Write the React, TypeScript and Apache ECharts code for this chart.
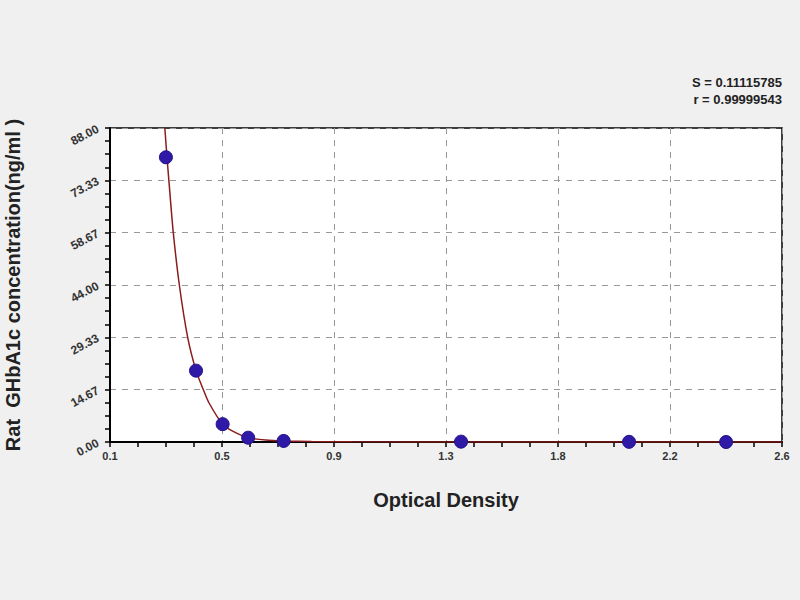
import { useEffect, useRef } from 'react';
import * as echarts from 'echarts';
import type { EChartsOption } from 'echarts';

// standards (optical density vs concentration)
const standardOd = [0.308, 0.42, 0.519, 0.614, 0.746, 1.406, 2.031, 2.392];
const standardConc = [79.8, 20.0, 5.0, 1.2, 0.3, 0.1, 0.05, 0.0];

// fitted curve
const curveOd = [0.304, 0.312, 0.32, 0.335, 0.358, 0.389, 0.42, 0.447, 0.468, 0.519, 0.56, 0.614, 0.68, 0.746, 0.85, 1.0, 1.4, 2.0, 2.6];
const curveConc = [88.0, 79.8, 72.4, 59.0, 44.0, 29.3, 20.0, 14.7, 11.0, 5.0, 2.9, 1.2, 0.55, 0.3, 0.12, 0.05, 0.01, 0, 0];

const xMajorTicks = [0.1, 0.5167, 0.9333, 1.35, 1.7667, 2.1833, 2.6];
const xTickLabels = ['0.1', '0.5', '0.9', '1.3', '1.8', '2.2', '2.6'];

const fitStats = ['S = 0.11115785', 'r = 0.99999543'];

const FONT = 'Arial, "Liberation Sans", sans-serif';

function minorTicks(major: number[], parts: number) {
  const out: number[] = [];
  for (let i = 0; i < major.length - 1; i++) {
    const step = (major[i + 1] - major[i]) / parts;
    for (let k = 1; k < parts; k++) out.push(major[i] + step * k);
  }
  return out;
}

function buildOption(): EChartsOption {
  const tickLabel = {
    fontFamily: FONT,
    fontWeight: 'bold' as const,
    color: '#333'
  };
  const axisTitle = {
    fontFamily: FONT,
    fontSize: 20,
    fontWeight: 'bold' as const,
    color: '#222'
  };
  return {
    animation: false,
    backgroundColor: '#f0f0f0',
    grid: {
      left: 110,
      right: 18,
      top: 128,
      bottom: 158,
      containLabel: false,
      outerBoundsMode: 'none',
      show: true,
      backgroundColor: '#ffffff',
      borderColor: '#000',
      borderWidth: 1.5
    } as any,
    graphic: fitStats.map((text, i) => ({
      type: 'text',
      right: 18,
      top: 76 + i * 17,
      style: {
        text,
        fontFamily: FONT,
        fontSize: 13,
        fontWeight: 'bold',
        fill: '#222',
        textAlign: 'right'
      }
    })),
    xAxis: [
      {
        type: 'value',
        min: 0.1,
        max: 2.6,
        name: 'Optical Density',
        nameLocation: 'middle',
        nameGap: 48,
        nameTextStyle: axisTitle,
        axisLine: { show: true, lineStyle: { color: '#000', width: 2 } },
        axisTick: { show: true, length: 5, customValues: xMajorTicks, lineStyle: { color: '#000', width: 1.5 } },
        axisLabel: {
          ...tickLabel,
          fontSize: 11,
          margin: 8,
          customValues: xMajorTicks,
          formatter: (v: number) => {
            const i = xMajorTicks.findIndex((t) => Math.abs(t - v) < 1e-6);
            return i >= 0 ? xTickLabels[i] : '';
          }
        },
        splitLine: { show: true, lineStyle: { color: '#999', type: [6, 6], width: 1 } }
      },
      {
        type: 'value',
        min: 0.1,
        max: 2.6,
        position: 'bottom',
        axisLine: { show: false },
        axisTick: { show: true, length: 5, customValues: minorTicks(xMajorTicks, 4), lineStyle: { color: '#000', width: 1.5 } },
        axisLabel: { show: false },
        splitLine: { show: false }
      }
    ],
    yAxis: {
      type: 'value',
      min: 0,
      max: 88,
      interval: 88 / 6,
      name: 'Rat  GHbA1c concentration(ng/ml )',
      nameLocation: 'middle',
      nameGap: 87,
      nameTextStyle: axisTitle,
      axisLine: { show: true, lineStyle: { color: '#000', width: 2 } },
      axisTick: { show: true, length: 5, lineStyle: { color: '#000', width: 1.5 } },
      minorTick: { show: true, splitNumber: 4, length: 5, lineStyle: { color: '#000', width: 1.5 } },
      axisLabel: {
        ...tickLabel,
        fontSize: 12,
        rotate: 28,
        margin: 12,
        formatter: (v: number) => v.toFixed(2)
      },
      splitLine: { show: true, lineStyle: { color: '#999', type: [6, 6], width: 1 } }
    },
    series: [
      {
        name: 'curve',
        type: 'line',
        data: curveOd.map((x, i) => [x, curveConc[i]]),
        smooth: 0.25,
        showSymbol: false,
        clip: true,
        lineStyle: { color: '#8b1c1c', width: 1.5 },
        z: 3
      },
      {
        name: 'standards',
        type: 'scatter',
        data: standardOd.map((x, i) => [x, standardConc[i]]),
        symbol: 'circle',
        symbolSize: 13,
        itemStyle: { color: '#2f1aa8', borderColor: '#20108a', borderWidth: 1, opacity: 1 },
        z: 4
      }
    ]
  };
}

export default function App() {
  const ref = useRef<HTMLDivElement | null>(null);

  useEffect(() => {
    if (!ref.current) return undefined;
    const chart = echarts.init(ref.current, undefined, { renderer: 'svg' });
    chart.setOption(buildOption());
    return () => chart.dispose();
  }, []);

  return (
    <div
      ref={ref}
      style={{ position: 'fixed', left: 0, top: 0, width: 800, height: 600 }}
      aria-label="Rat GHbA1c standard curve"
    />
  );
}
